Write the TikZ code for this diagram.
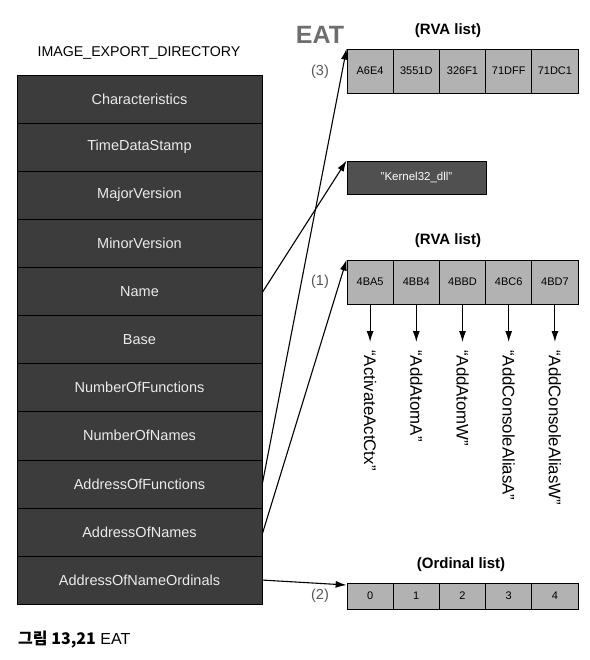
\documentclass[tikz,border=0pt]{standalone}
\usepackage{fontspec}
\setmainfont{Liberation Sans}
\newfontfamily\kr{Noto Sans CJK KR}
\usetikzlibrary{arrows.meta}
\definecolor{tabfill}{RGB}{60,60,60}
\definecolor{cellfill}{RGB}{178,178,178}
\definecolor{kfill}{RGB}{80,80,80}
\definecolor{labgray}{RGB}{85,85,85}
\definecolor{eatgray}{RGB}{110,110,110}
\tikzset{
  rowbox/.style={draw=black, line width=0.6pt, fill=tabfill, text=white!92!black,
    minimum width=245pt, minimum height=48.1pt, inner sep=0pt,
    font=\fontsize{14.5}{16}\selectfont},
  cellbox/.style={draw=black, line width=0.8pt, fill=cellfill,
    minimum width=46.2pt, inner sep=0pt, font=\fontsize{11}{12}\selectfont},
  listlab/.style={font=\bfseries\fontsize{15}{17}\selectfont},
  numlab/.style={text=labgray, font=\fontsize{14.5}{16}\selectfont},
  fname/.style={rotate=-90, anchor=west, inner sep=0pt, font=\fontsize{16.8}{18}\selectfont},
  ptr/.style={-{Latex[length=11pt,width=7pt]}, line width=1.1pt, black},
}
\begin{document}
\begin{tikzpicture}[x=1pt,y=-1pt]
\useasboundingbox (0,0) rectangle (589,660);
% title
\node[font=\fontsize{14.2}{16}\selectfont] (title) at (139,53) {IMAGE\_EXPORT\_DIRECTORY};
% table rows
\foreach \t [count=\i from 0] in {Characteristics,TimeDataStamp,MajorVersion,MinorVersion,Name,Base,NumberOfFunctions,NumberOfNames,AddressOfFunctions,AddressOfNames,AddressOfNameOrdinals}{
  \node[rowbox] (r\i) at (139.5,{75+48.1*(\i+0.5)}) {\t};
}
% EAT
\node[text=eatgray, font=\bfseries\fontsize{25}{27}\selectfont] (eat) at (320,35) {EAT};
% top RVA list
\node[listlab] (rvatop) at (448,31) {(RVA list)};
\node[numlab] (n3) at (320,72) {(3)};
\foreach \t [count=\i from 0] in {A6E4,3551D,326F1,71DFF,71DC1}{
  \node[cellbox, minimum height=44pt] (a\i) at ({347+46.2*(\i+0.5)},71) {\t};
}
% Kernel32 box
\node[draw=black, line width=0.8pt, fill=kfill, text=white, minimum width=139pt, minimum height=33pt,
  inner sep=0pt, font=\fontsize{11.5}{12}\selectfont] (k32) at (416.5,177.5) {"Kernel32\_dll"};
% RVA list (1)
\node[listlab] (rvamid) at (448,241) {(RVA list)};
\node[numlab] (n1) at (320,282) {(1)};
\foreach \t [count=\i from 0] in {4BA5,4BB4,4BBD,4BC6,4BD7}{
  \node[cellbox, minimum height=44pt] (b\i) at ({347+46.2*(\i+0.5)},282) {\t};
}
% function names
\foreach \t [count=\i from 0] in {ActivateActCtx,AddAtomA,AddAtomW,AddConsoleAliasA,AddConsoleAliasW}{
  \node[fname] (f\i) at ({347+46.2*(\i+0.5)},350) {“\t”};
  \draw[ptr] (b\i.south) -- ([yshift=8pt]f\i.west);
}
% ordinal list
\node[listlab] (ordlab) at (461,565) {(Ordinal list)};
\node[numlab] (n2) at (320,596) {(2)};
\foreach \t [count=\i from 0] in {0,1,2,3,4}{
  \node[cellbox, minimum height=26pt] (o\i) at ({347+46.2*(\i+0.5)},596) {\t};
}
% pointers
\draw[ptr] ([yshift=-1pt]r4.east) -- (k32.north west);
\draw[ptr] (r8.east) -- (a0.north west);
\draw[ptr] ([yshift=-2pt]r9.east) -- (b0.north west);
\draw[ptr] (r10.east) -- ([yshift=11pt]o0.west);
% caption
\node[anchor=west, inner sep=0pt, font=\fontsize{16}{18}\selectfont] (cap) at (18,640) {{\kr\bfseries 그림 13,21} EAT};
\end{tikzpicture}
\end{document}
